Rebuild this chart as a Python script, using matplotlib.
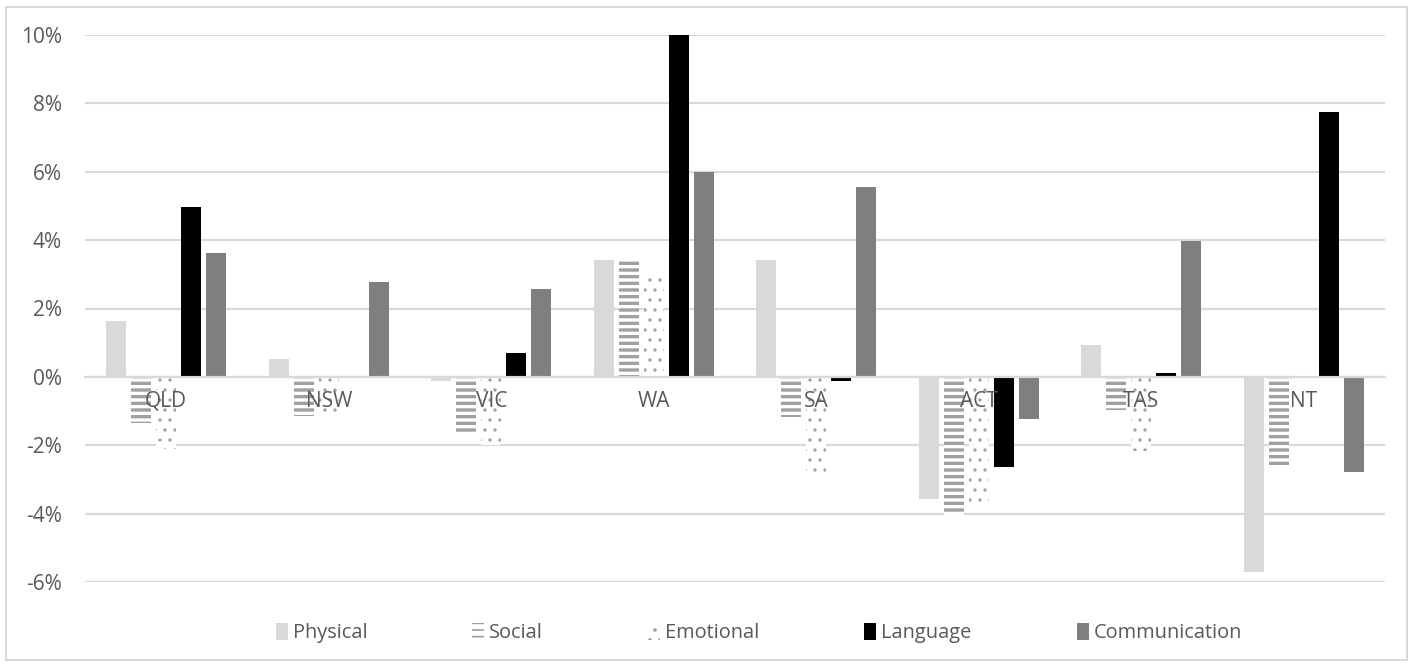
import numpy as np
import matplotlib.pyplot as plt
from matplotlib.patches import Rectangle
from matplotlib.ticker import FuncFormatter

# Change by state, per developmental domain (percentage points)
states = ["QLD", "NSW", "VIC", "WA", "SA", "ACT", "TAS", "NT"]
physical = [1.63, 0.51, -0.12, 3.43, 3.43, -3.58, 0.92, -5.70]
social = [-1.36, -1.14, -1.60, 3.43, -1.18, -4.04, -0.98, -2.62]
emotional = [-2.10, -1.20, -2.00, 2.90, -2.80, -3.66, -2.18, 0.10]
language = [4.96, 0.00, 0.70, 10.00, -0.12, -2.65, 0.12, 7.74]
communication = [3.63, 2.78, 2.56, 6.00, 5.55, -1.24, 3.97, -2.77]

series = [
    ("Physical", physical, dict(color="#D9D9D9")),
    ("Social", social, dict(facecolor="white", edgecolor="#A0A0A0", hatch="---", linewidth=0), 2.0),
    ("Emotional", emotional, dict(facecolor="white", edgecolor="#A0A0A0", hatch="..", linewidth=0), 0.8),
    ("Language", language, dict(color="black")),
    ("Communication", communication, dict(color="#7F7F7F")),
]

DPI = 120
fig = plt.figure(figsize=(1413 / DPI, 666 / DPI), dpi=DPI)
plt.rcParams["font.family"] = ["Open Sans", "DejaVu Sans"]
grey_text = "#595959"

# plot area in pixels: x 85..1385, y 35..582
ax = fig.add_axes([85 / 1413, (666 - 582) / 666, 1300 / 1413, (582 - 35) / 666])

x = np.arange(len(states))
step = 0.154
width = 0.123
for k, s in enumerate(series):
    label, vals, style = s[0], s[1], s[2]
    lw = s[3] if len(s) > 3 else 1.0
    with plt.rc_context({"hatch.linewidth": lw}):
        ax.bar(x + (k - 2) * step, np.array(vals) / 100, width, label=label,
               zorder=2, **style)

ax.set_xlim(-0.5, len(states) - 0.5)
ax.set_ylim(-0.06, 0.10)
ax.set_yticks(np.arange(-0.06, 0.101, 0.02))
ax.yaxis.set_major_formatter(FuncFormatter(lambda v, p: f"{round(v * 100):d}%"))
ax.grid(axis="y", color="#D9D9D9", linewidth=1.3, zorder=0)
ax.set_axisbelow(True)

# category names sit just under the zero line, on top of the bars
ax.set_xticks(x)
ax.set_xticklabels([])
for i, name in enumerate(states):
    ax.annotate(name, xy=(i, 0), xytext=(0, -14.5), textcoords="offset points",
                ha="center", va="center", fontsize=12.5, color=grey_text, zorder=5)

ax.spines["bottom"].set_position(("data", 0))
ax.spines["bottom"].set_color("#D9D9D9")
ax.spines["bottom"].set_linewidth(1.3)
for side in ["top", "right", "left"]:
    ax.spines[side].set_visible(False)
ax.tick_params(axis="x", length=0)
ax.tick_params(axis="y", length=0, pad=14, labelsize=12.5, labelcolor=grey_text)

handles, labels = ax.get_legend_handles_labels()
leg = fig.legend(handles, labels, loc="center", bbox_to_anchor=(0.537, (666 - 633) / 666),
                 ncol=5, frameon=False, fontsize=12, handlelength=0.6, handleheight=0.9,
                 handletextpad=0.25, columnspacing=5.25)
for t in leg.get_texts():
    t.set_color(grey_text)

# chart border
fig.patches.append(Rectangle((6 / 1413, 6 / 666), 1401 / 1413, 653 / 666,
                             transform=fig.transFigure, fill=False,
                             edgecolor="#D9D9D9", linewidth=1.2))

fig.savefig("out.png", dpi=DPI)
